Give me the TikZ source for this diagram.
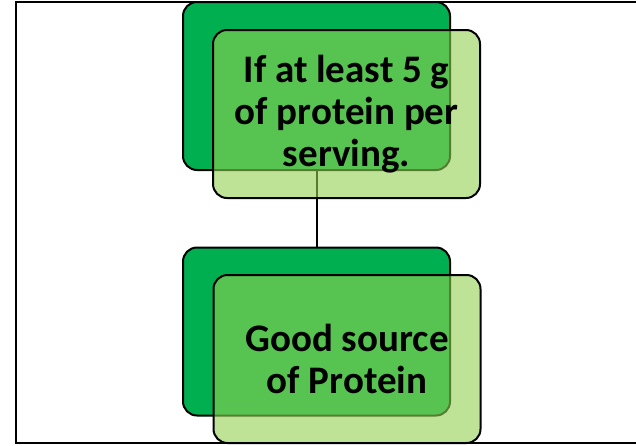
\documentclass[tikz,border=0pt]{standalone}
\usepackage{fontspec}
\setmainfont{Carlito}
\definecolor{dkgreen}{HTML}{00B050}
\definecolor{ltgreen}{HTML}{92D050}
\tikzset{
  backbox/.style={draw=black, line width=2pt, fill=dkgreen, rounded corners=14pt,
    minimum width=267pt, minimum height=168pt, inner sep=0pt},
  frontbox/.style={draw=black, line width=2pt, fill=ltgreen, fill opacity=0.6,
    draw opacity=1, text opacity=1, rounded corners=14pt,
    minimum width=267pt, minimum height=168pt, inner sep=0pt, align=center,
    font=\bfseries\fontsize{39}{42}\selectfont},
  conn/.style={draw=black, line width=2pt},
  frame/.style={draw=black, line width=2pt}
}
\begin{document}
\begin{tikzpicture}[x=1pt,y=-1pt]
\useasboundingbox (0,0) rectangle (636,445);
\node[backbox] (tb) at (316.5,86) {};
\node[backbox] (bb) at (316.5,331.5) {};
\draw[conn] (tb.south) -- (bb.north);
\node[frontbox] (tf) at (346.5,114) {If at least 5 g\\of protein per\\serving.};
\node[frontbox] (bf) at (347,359) {Good source\\of Protein};
\draw[frame] (636,2) -- (16,2) -- (16,443) -- (636,443);
\end{tikzpicture}
\end{document}
